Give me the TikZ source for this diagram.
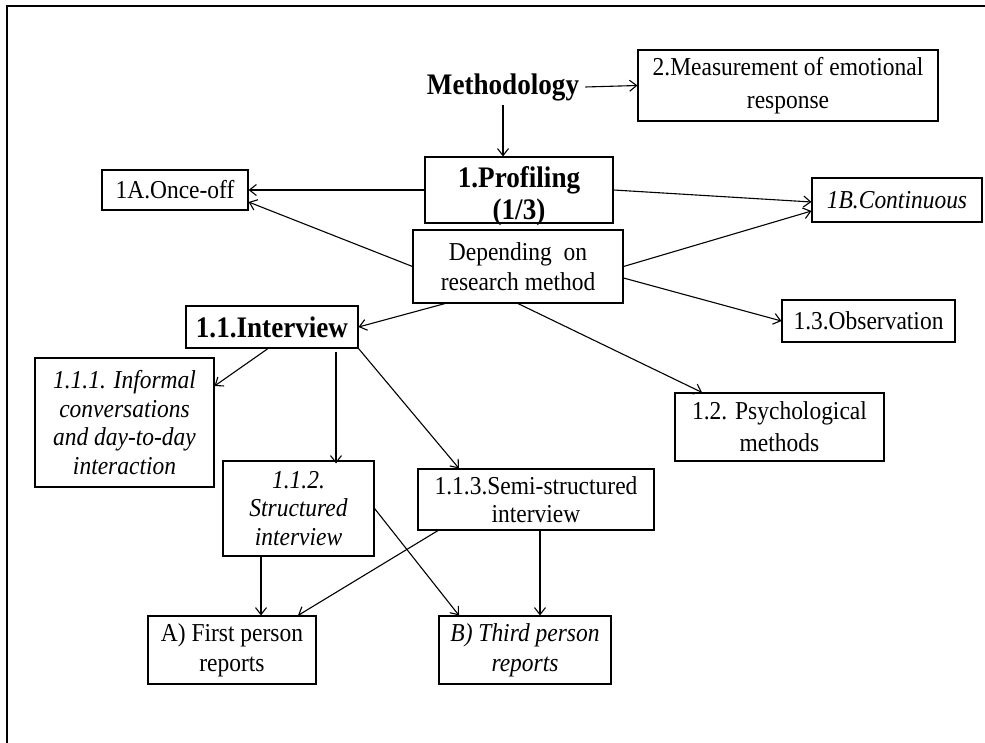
\documentclass[tikz,border=0pt]{standalone}
\usepackage{fontspec}
\setmainfont{Liberation Serif}[FakeStretch=0.91]
\usetikzlibrary{arrows.meta}
\begin{document}
\begin{tikzpicture}[x=1pt,y=-1pt,
  box/.style={draw,line width=1.1pt,inner sep=0pt,align=center,
    font=\fontsize{25.8}{29}\selectfont},
  bigbold/.style={font=\fontsize{29.8}{31.7}\selectfont\bfseries},
  conn/.style={line width=1.1pt,-{Straight Barb[length=7pt,width=11pt,line width=1.1pt]}}]
  \useasboundingbox (0,0) rectangle (985,743);
  % outer frame (top and left edges)
  \draw[line width=1.6pt] (7,743) -- (7,6) -- (985,6);

  % nodes
  \node[bigbold,inner sep=0pt] (meth) at (503,87) {Methodology};
  \node[box,minimum width=300,minimum height=71,
    font=\fontsize{25.8}{32.5}\selectfont] (meas) at (788,85.5)
    {2.Measurement of emotional\\response};
  \node[box,minimum width=188,minimum height=66] (prof) at (519,190) {};
  \node[bigbold,align=center,inner sep=0pt] (proftxt) at (519,196) {1.Profiling\\(1/3)};
  \node[box,minimum width=146,minimum height=40] (once) at (175,190) {1A.Once-off};
  \node[box,minimum width=170,minimum height=44] (cont) at (897,200) {\itshape 1B.Continuous};
  \node[box,minimum width=210,minimum height=73,
    font=\fontsize{25.8}{30}\selectfont] (dep) at (518,266.5)
    {Depending\ \ on\\research method};
  \node[box,minimum width=173,minimum height=42] (obs) at (868.5,321) {1.3.Observation};
  \node[box,minimum width=209,minimum height=68,
    font=\fontsize{25.8}{32}\selectfont] (psy) at (779.5,427)
    {1.2. Psychological\\methods};
  \node[box,minimum width=172,minimum height=42,bigbold] (int) at (272,327) {1.1.Interview};
  \node[box,minimum width=179,minimum height=129,
    font=\fontsize{25.8}{28.7}\selectfont\itshape] (inf) at (124.5,422.5)
    {1.1.1. Informal\\conversations\\and day-to-day\\interaction};
  \node[box,minimum width=151,minimum height=95,
    font=\fontsize{25.8}{28.3}\selectfont\itshape] (str) at (298.5,508.5)
    {1.1.2.\\Structured\\interview};
  \node[box,minimum width=236,minimum height=61,
    font=\fontsize{25.8}{27.5}\selectfont] (semi) at (536,499.5)
    {1.1.3.Semi-structured\\interview};
  \node[box,minimum width=168,minimum height=68,
    font=\fontsize{25.8}{30}\selectfont] (first) at (232,650)
    {A) First person\\reports};
  \node[box,minimum width=172,minimum height=68,
    font=\fontsize{25.8}{30}\selectfont\itshape] (third) at (525,650)
    {B) Third person\\reports};

  % connectors
  \draw[conn] ([xshift=6pt]meth.east) -- (meas.west);
  \draw[conn] ([yshift=-4pt]meth.south) -- (meth.south |- prof.north);
  \draw[conn] (prof.west) -- (once.east);
  \draw[conn] (dep.west) -- ([yshift=-12pt]once.east);
  \draw[conn] (prof.east) -- ([yshift=-2pt]cont.west);
  \draw[conn] (dep.east) -- ([yshift=-11pt]cont.west);
  \draw[conn] ([yshift=-11.5pt]dep.east) -- (obs.west);
  \draw[conn] (dep.south) -- ([xshift=-77.5pt]psy.north);
  \draw[conn] ([xshift=-73pt]dep.south) -- (int.east);
  \draw[conn] ([xshift=-4pt]int.south) -- ([yshift=36.5pt]inf.east);
  \draw[conn] ([xshift=64pt,yshift=-3pt]int.south) -- ([xshift=64pt,yshift=-3pt]int.south |- str.north);
  \draw[conn] (int.south east) -- ([xshift=-77pt]semi.north);
  \draw[conn] ([xshift=-37.5pt]str.south) -- ([xshift=-37.5pt]str.south |- first.north);
  \draw[conn] (str.east) -- ([xshift=-66pt]third.north);
  \draw[conn] ([xshift=-98pt]semi.south) -- ([xshift=66pt]first.north);
  \draw[conn] ([xshift=4pt]semi.south) -- ([xshift=4pt]semi.south |- third.north);
\end{tikzpicture}
\end{document}
